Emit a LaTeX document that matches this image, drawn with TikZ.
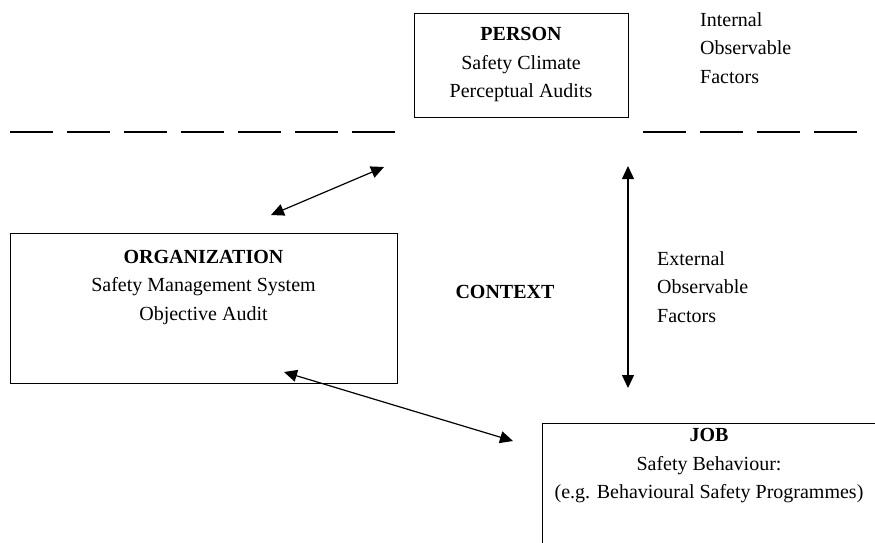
\documentclass[tikz,border=0pt]{standalone}
\usepackage{fontspec}
\setmainfont{Liberation Serif}
\usetikzlibrary{arrows.meta}
\tikzset{
  box/.style={draw, line width=1pt, inner sep=0pt},
  boxtext/.style={align=center, inner sep=0pt, font=\fontsize{20}{28.5}\selectfont},
  sidetext/.style={align=left, anchor=west, inner sep=0pt, font=\fontsize{20}{28.5}\selectfont},
  link/.style={{Triangle[length=13pt,width=12pt]}-{Triangle[length=13pt,width=12pt]}, line width=1.2pt},
  divider/.style={line width=1.6pt, dash pattern=on 43pt off 14pt}
}
\begin{document}
\begin{tikzpicture}[x=1pt,y=-1pt]
  \useasboundingbox (0,0) rectangle (875,542);
  \clip (0,0) rectangle (875,542);
  % boxes
  \node[box, minimum width=214pt, minimum height=104pt] (person) at (521,65) {};
  \node[boxtext] (persontext) at (521,65) {\textbf{PERSON}\\Safety Climate\\Perceptual Audits};
  \node[box, minimum width=387pt, minimum height=150pt] (org) at (203.5,308) {};
  \node[boxtext] (orgtext) at (203.5,287) {\textbf{ORGANIZATION}\\Safety Management System\\Objective Audit};
  \node[box, minimum width=340pt, minimum height=170pt] (job) at (712,508) {};
  \node[boxtext] (jobtext) at (709,466) {\textbf{JOB}\\Safety Behaviour:\\(e.g. Behavioural Safety Programmes)};
  % labels
  \node[sidetext] (internal) at (700,48) {Internal\\Observable\\Factors};
  \node[sidetext] (external) at (657,287) {External\\Observable\\Factors};
  \node[boxtext] (context) at (505,292) {\textbf{CONTEXT}};
  % dashed line
  \coordinate (d1) at (10,132);
  \coordinate (d2) at (400,132);
  \coordinate (d3) at (643,132);
  \coordinate (d4) at (860,132);
  \draw[divider] (d1) -- (d2);
  \draw[divider] (d3) -- (d4);
  % arrows
  \coordinate (p1) at (271,215);
  \coordinate (p2) at (384,167);
  \coordinate (v1) at (628,166);
  \coordinate (v2) at (628,388);
  \coordinate (q1) at (284,372);
  \coordinate (q2) at (513,441);
  \draw[link] (p1) -- (p2);
  \draw[link] (v1) -- (v2);
  \draw[link] (q1) -- (q2);
\end{tikzpicture}
\end{document}
